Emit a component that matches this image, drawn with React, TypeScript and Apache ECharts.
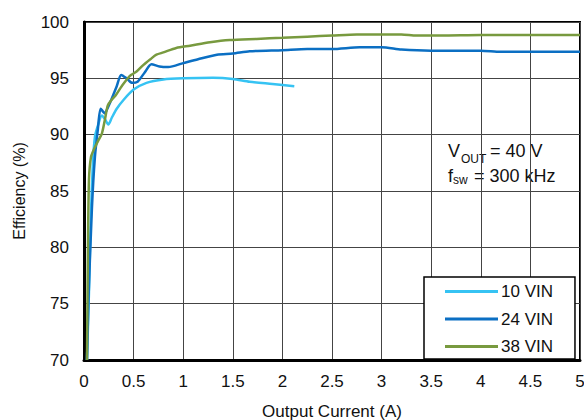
import React, { useEffect, useRef } from "react";
import * as echarts from "echarts";

const seriesNames = ["10 VIN", "24 VIN", "38 VIN"];
const seriesColors = ["#36C3F3", "#0B6FC3", "#789A3F"];

const vin10X = [0.03, 0.05, 0.07, 0.09, 0.11, 0.14, 0.18, 0.21, 0.245, 0.28, 0.33, 0.4, 0.5, 0.63, 0.8, 1.0, 1.3, 1.5, 1.67, 1.9, 2.12];
const vin10Y = [70, 76, 83, 87.5, 89.8, 90.8, 91.7, 91.4, 90.9, 91.5, 92.3, 93.1, 94.0, 94.6, 94.9, 95.0, 95.05, 94.95, 94.7, 94.5, 94.3];

const vin24X = [0.03, 0.045, 0.08, 0.11, 0.14, 0.168, 0.21, 0.24, 0.275, 0.33, 0.375, 0.43, 0.485, 0.54, 0.61, 0.68, 0.76, 0.85, 1.0, 1.15, 1.34, 1.5, 1.67, 2.0, 2.25, 2.5, 2.78, 3.0, 3.2, 3.5, 4.0, 4.2, 4.5, 5.0];
const vin24Y = [70, 75.3, 83.5, 88, 90.5, 92.3, 91.9, 92.4, 93.1, 94.3, 95.3, 95.0, 94.6, 94.7, 95.5, 96.25, 96.05, 96.0, 96.35, 96.7, 97.1, 97.2, 97.4, 97.5, 97.6, 97.6, 97.75, 97.75, 97.55, 97.45, 97.45, 97.35, 97.35, 97.35];

const vin38X = [0.03, 0.04, 0.05, 0.07, 0.1, 0.14, 0.18, 0.21, 0.24, 0.28, 0.32, 0.38, 0.46, 0.53, 0.6, 0.67, 0.73, 0.8, 0.93, 1.07, 1.27, 1.47, 1.74, 2.0, 2.25, 2.5, 2.75, 3.0, 3.2, 3.35, 3.6, 4.0, 4.5, 5.0];
const vin38Y = [70, 80, 86, 88, 88.7, 89.4, 90.1, 91.3, 92.6, 93.1, 93.5, 94.3, 95.2, 95.6, 96.2, 96.7, 97.1, 97.3, 97.7, 97.9, 98.2, 98.4, 98.5, 98.6, 98.7, 98.8, 98.9, 98.9, 98.9, 98.8, 98.8, 98.85, 98.85, 98.85];

const xTicks = { min: 0, max: 5, interval: 0.5 };
const yTicks = { min: 70, max: 100, interval: 5 };

const FONT = "'Liberation Sans', Arial, sans-serif";

function zip(xs: number[], ys: number[]) {
  return xs.map((x, i) => [x, ys[i]]);
}

export default function App() {
  const ref = useRef<HTMLDivElement>(null);
  useEffect(() => {
    if (!ref.current) return;
    const chart = echarts.init(ref.current, null, { renderer: "svg" });
    const allX = [vin10X, vin24X, vin38X];
    const allY = [vin10Y, vin24Y, vin38Y];
    chart.setOption({
      animation: false,
      textStyle: { fontFamily: FONT },
      grid: {
        left: 84,
        right: 4,
        top: 22,
        bottom: 60,
        outerBoundsMode: "none",
        containLabel: false,
        show: true,
        borderColor: "#000",
        borderWidth: 2,
        backgroundColor: "transparent",
      },
      xAxis: {
        type: "value",
        min: xTicks.min,
        max: xTicks.max,
        interval: xTicks.interval,
        name: "Output Current (A)",
        nameLocation: "middle",
        nameGap: 43,
        nameTextStyle: { fontSize: 17, color: "#111", fontFamily: FONT },
        axisLine: { show: true, lineStyle: { color: "#000", width: 3 } },
        axisTick: { show: false },
        axisLabel: { fontSize: 17, color: "#111", margin: 13, fontFamily: FONT },
        splitLine: { show: true, lineStyle: { color: "#444", width: 1 } },
      },
      yAxis: {
        type: "value",
        min: yTicks.min,
        max: yTicks.max,
        interval: yTicks.interval,
        name: "Efficiency (%)",
        nameLocation: "middle",
        nameGap: 57,
        nameTextStyle: { fontSize: 16, color: "#111", fontFamily: FONT },
        axisLine: { show: true, lineStyle: { color: "#000", width: 3 } },
        axisTick: { show: false },
        axisLabel: { fontSize: 17, color: "#111", margin: 15, fontFamily: FONT },
        splitLine: { show: true, lineStyle: { color: "#444", width: 1 } },
      },
      legend: {
        orient: "vertical",
        left: 424,
        top: 277,
        data: seriesNames,
        icon: "rect",
        backgroundColor: "#fff",
        borderColor: "#000",
        borderWidth: 1.5,
        borderRadius: 0,
        padding: [6, 22, 4, 21],
        itemWidth: 53,
        itemHeight: 3,
        itemGap: 10.5,
        textStyle: { fontSize: 17, color: "#111", fontFamily: FONT, padding: [0, 0, 0, -2] },
      },
      graphic: [
        {
          type: "group",
          z: 1,
          children: [
            { type: "rect", shape: { x: 431, y: 131, width: 148, height: 67 }, style: { fill: "#fff" } },
            { type: "text", x: 448, y: 151, style: { text: "V", fontSize: 18, fontFamily: FONT, fill: "#111", verticalAlign: "middle", align: "left" } },
            { type: "text", x: 461, y: 159, style: { text: "OUT", fontSize: 12, fontFamily: FONT, fill: "#111", verticalAlign: "middle", align: "left" } },
            { type: "text", x: 485, y: 151, style: { text: " = 40 V", fontSize: 18, fontFamily: FONT, fill: "#111", verticalAlign: "middle", align: "left" } },
            { type: "text", x: 448, y: 176, style: { text: "f", fontSize: 18, fontFamily: FONT, fill: "#111", verticalAlign: "middle", align: "left" } },
            { type: "text", x: 453, y: 180, style: { text: "sw", fontSize: 12, fontFamily: FONT, fill: "#111", verticalAlign: "middle", align: "left" } },
            { type: "text", x: 469, y: 176, style: { text: " = 300 kHz", fontSize: 18, fontFamily: FONT, fill: "#111", verticalAlign: "middle", align: "left" } },
          ],
        },
      ],
      series: seriesNames.map((name, i) => ({
        name,
        type: "line",
        data: zip(allX[i], allY[i]),
        symbol: "none",
        showSymbol: false,
        smooth: 0.25,
        lineStyle: { color: seriesColors[i], width: 2.5 },
        itemStyle: { color: seriesColors[i] },
        z: 3 + i,
      })),
    });
    return () => chart.dispose();
  }, []);
  return <div ref={ref} style={{ width: 584, height: 420, position: "absolute", left: 0, top: 0 }} />;
}
